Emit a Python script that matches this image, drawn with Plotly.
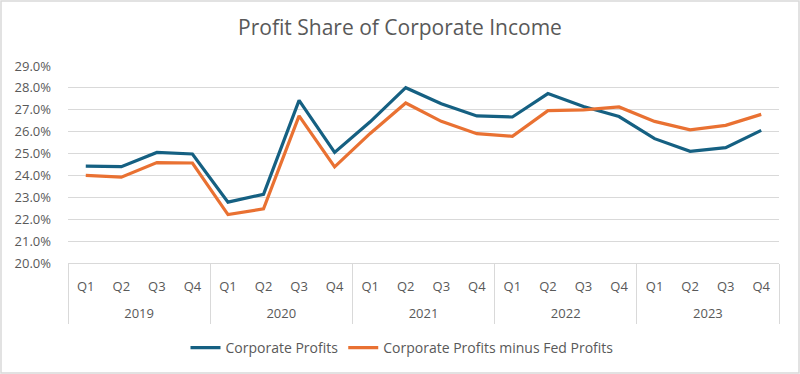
import plotly.graph_objects as go

years = ["2019"] * 4 + ["2020"] * 4 + ["2021"] * 4 + ["2022"] * 4 + ["2023"] * 4
quarters = ["Q1", "Q2", "Q3", "Q4"] * 5

corporate_profits = [24.43, 24.40, 25.05, 24.98,
                     22.78, 23.14, 27.43, 25.05,
                     26.45, 28.01, 27.28, 26.72,
                     26.67, 27.74, 27.15, 26.69,
                     25.68, 25.10, 25.27, 26.06]
minus_fed = [24.00, 23.92, 24.59, 24.57,
             22.21, 22.47, 26.72, 24.39,
             25.92, 27.31, 26.47, 25.91,
             25.79, 26.96, 27.00, 27.13,
             26.47, 26.08, 26.29, 26.79]

series_names = ["Corporate Profits", "Corporate Profits minus Fed Profits"]
colors = ["#156082", "#E97132"]

# category keys and derived year groups
cats = [f"{y} {q}" for y, q in zip(years, quarters)]
n = len(cats)
year_labels = list(dict.fromkeys(years))
year_centers = [sum(i for i, y in enumerate(years) if y == yl) / years.count(yl) for yl in year_labels]
boundaries = [-0.5] + [i - 0.5 for i in range(1, n) if years[i] != years[i - 1]] + [n - 0.5]

W, H = 800, 374
ml, mr, mt, mb = 68, 21, 66, 111
pw, ph = W - ml - mr, H - mt - mb
grey = "#595959"
light = "#D9D9D9"

fig = go.Figure()
for name, vals, c in zip(series_names, [corporate_profits, minus_fed], colors):
    fig.add_trace(go.Scatter(
        x=cats, y=vals, name=name, mode="lines",
        line=dict(color=c, width=3.2), hoverinfo="skip"))

fig.update_layout(
    width=W, height=H,
    margin=dict(l=ml, r=mr, t=mt, b=mb, autoexpand=False),
    paper_bgcolor="white", plot_bgcolor="white",
    font=dict(family="Open Sans, Lato, sans-serif", color=grey, size=13),
    title=dict(text="Profit Share of Corporate Income", x=0.5, xanchor="center",
               y=1 - 28 / H, yanchor="middle", font=dict(size=21, color=grey)),
    showlegend=True,
    legend=dict(orientation="h", x=(402 - ml) / pw, xanchor="center",
                y=-(348 - (mt + ph)) / ph, yanchor="middle",
                font=dict(size=14, color=grey), itemwidth=30, tracegroupgap=0),
    xaxis=dict(type="category", categoryorder="array", categoryarray=cats,
               tickvals=cats, ticktext=quarters,
               showgrid=False, ticks="", showline=True,
               linecolor=light, linewidth=1, automargin=False,
               range=[-0.5, n - 0.5], ticklabelstandoff=11,
               tickfont=dict(size=13, color=grey)),
    xaxis2=dict(overlaying="x", anchor="y", side="bottom", type="linear",
                range=[-0.5, n - 0.5], tickmode="array", tickvals=year_centers,
                ticktext=year_labels, showgrid=False, zeroline=False, showline=False,
                ticks="", automargin=False, ticklabelstandoff=41,
                tickfont=dict(size=13, color=grey)),
    xaxis3=dict(overlaying="x", anchor="y", side="bottom", type="linear",
                range=[-0.5, n - 0.5], tickmode="array", tickvals=boundaries,
                showticklabels=False, showgrid=False, zeroline=False, showline=False,
                ticks="outside", ticklen=60, tickwidth=1, tickcolor=light,
                automargin=False),
    yaxis=dict(range=[20, 29], dtick=1, tickformat=".1f", ticksuffix="%",
               showgrid=True, gridcolor=light, gridwidth=1, zeroline=False,
               showline=False, automargin=False, ticklabelstandoff=16,
               tickfont=dict(size=13, color=grey)),
    shapes=[dict(type="rect", xref="paper", yref="paper",
                 x0=-(ml - 1) / pw, x1=1 + (mr - 1) / pw,
                 y0=-(mb - 1) / ph, y1=1 + (mt - 1) / ph,
                 line=dict(color=light, width=1.5), layer="above")],
)

# helper traces to activate the overlay axes (no visible marks)
fig.add_trace(go.Scatter(x=[year_centers[0]], y=[None], xaxis="x2", showlegend=False,
                         hoverinfo="skip", mode="markers"))
fig.add_trace(go.Scatter(x=[boundaries[0]], y=[None], xaxis="x3", showlegend=False,
                         hoverinfo="skip", mode="markers"))

fig.write_html("out.html", config={"displayModeBar": False},
               post_script="document.body.style.margin='0';")
